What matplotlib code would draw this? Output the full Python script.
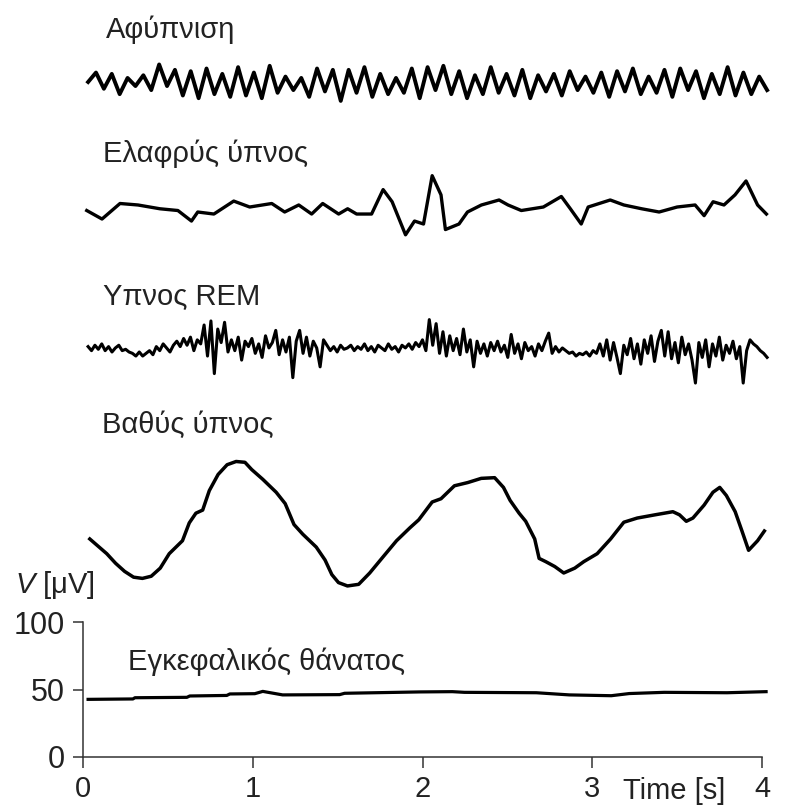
"""
EEG traces for different sleep stages (Greek labels), stacked on one
shared µV / time axis. Saves out.png.
"""

import numpy as np
import matplotlib
matplotlib.use("Agg")
import matplotlib.pyplot as plt

plt.rcParams["font.family"] = ["Liberation Sans", "DejaVu Sans"]
plt.rcParams["mathtext.fontset"] = "custom"
plt.rcParams["mathtext.it"] = "Liberation Sans:italic"
plt.rcParams["mathtext.rm"] = "Liberation Sans"

# --- data (time in s, voltage in µV relative to each trace baseline) ------
stage_labels = ["Αφύπνιση", "Ελαφρύς ύπνος", "Υπνος REM", "Βαθύς ύπνος",
                "Εγκεφαλικός θάνατος"]

# awake: alpha rhythm, samples evenly spaced from 0.03 s to 4.03 s
awake_uv = [
    0, 7, -5, 6, -9, 3, -3, 5, -6, 13, -3, 9, -10, 8, -12, 10, -9, 6, -11, 11,
    -10, 7, -12, 12, -8, 4, -6, 3, -11, 10, -7, 9, -14, 9, -8, 11, -11, 6, -9, 3,
    -8, 10, -12, 11, -6, 12, -9, 8, -12, 5, -9, 11, -8, 6, -10, 9, -12, 5, -7, 6,
    -10, 8, -6, 4, -8, 7, -11, 8, -7, 10, -9, 4, -8, 9, -11, 10, -6, 8, -12, 6,
    -9, 11, -10, 7, -9, 4, -6]

light_t = [0.022, 0.112, 0.218, 0.324, 0.453, 0.559, 0.639, 0.676, 0.771, 0.888,
           0.982, 1.112, 1.188, 1.271, 1.347, 1.412, 1.506, 1.559, 1.612, 1.700,
           1.768, 1.821, 1.900, 1.953, 2.006, 2.057, 2.109, 2.135, 2.215, 2.265,
           2.347, 2.451, 2.504, 2.582, 2.712, 2.818, 2.871, 2.935, 2.976, 3.106,
           3.186, 3.291, 3.394, 3.500, 3.606, 3.659, 3.712, 3.776, 3.841, 3.906,
           3.974, 4.026]
light_uv = [-2.6, -8.9, 2.6, 1.5, -1.3, -2.6, -10.4, -3.7, -5.2, 4.4,
            0.0, 2.6, -3.7, 1.5, -5.2, 2.6, -5.2, -1.3, -5.2, -5.2,
            12.9, 3.9, -20.6, -10.4, -12.6, 23.2, 9.0, -16.7, -12.6, -3.7,
            1.5, 5.2, 1.5, -2.6, 0.0, 7.8, -1.3, -12.6, 0.0, 5.2,
            1.5, -1.3, -3.7, 0.0, 1.5, -6.4, 3.9, 1.5, 9.0, 19.3,
            1.5, -5.2]

# REM: samples evenly spaced from 0.03 s to 4.03 s
rem_uv = [
    1, -2, 2, -1, 3, -2, 1, -3, 0, 2, -2, -1, -3, -4, -6, -3, -6, -4, -2, -5,
    1, -2, 3, 0, -3, 2, 5, 1, 7, 2, 8, -2, 6, 3, 17, -6, 20, -19, 14, 4,
    19, -3, 6, -2, 8, -9, 5, 1, 7, -4, 3, -7, 9, 0, 4, 13, -5, 6, -3, 8,
    -22, 5, 13, -4, 8, -6, 5, 0, -14, 6, 2, -2, 1, -3, 2, -1, 0, 2, -2, 1,
    -1, 3, -2, 1, -3, 2, 0, -2, 3, -1, 1, -3, 2, 0, 3, -1, 4, 1, 6, -2,
    21, 2, 18, -4, 12, -6, 9, -2, 7, -5, 14, -3, 6, -14, 5, -4, 3, -6, 4, -2,
    5, -3, 2, -7, 10, -4, 3, -8, 4, -2, 1, -6, 3, -2, 5, 11, -4, 1, -3, 0,
    -2, -4, -3, -6, -4, -5, -3, -6, -2, -4, 3, -6, 6, -9, 4, -7, -19, 2, -5, 7,
    -8, 3, -12, 6, -4, 9, -10, 5, 13, -6, 12, -8, 4, -11, 8, -5, 3, -9, -26, 4,
    -7, 6, -14, 3, -6, 8, -9, 2, -4, 5, -8, 1, -26, -2, 6, 3, 1, -2, -4, -7]

deep_t = [0.040, 0.140, 0.192, 0.245, 0.298, 0.350, 0.402, 0.455, 0.508, 0.586,
          0.626, 0.665, 0.705, 0.744, 0.796, 0.849, 0.902, 0.954, 0.994, 1.059,
          1.138, 1.191, 1.243, 1.295, 1.374, 1.426, 1.466, 1.505, 1.558, 1.624,
          1.689, 1.768, 1.847, 1.926, 1.978, 2.057, 2.109, 2.188, 2.267, 2.346,
          2.425, 2.477, 2.516, 2.569, 2.608, 2.661, 2.687, 2.726, 2.779, 2.832,
          2.897, 2.950, 3.029, 3.108, 3.186, 3.265, 3.370, 3.475, 3.514, 3.554,
          3.593, 3.659, 3.711, 3.751, 3.790, 3.842, 3.882, 3.921, 3.974, 4.014]
deep_uv = [-14.1, -25.0, -32.1, -38.1, -42.4, -43.3, -41.7, -35.7, -25.0, -15.4,
           -2.2, 5.0, 7.3, 21.7, 33.7, 40.9, 43.3, 42.7, 37.3, 30.1,
           20.5, 12.1, -3.4, -10.6, -20.1, -29.7, -40.5, -46.4, -48.9, -47.7,
           -39.3, -27.3, -15.4, -5.8, 0.1, 13.3, 15.7, 25.3, 27.7, 30.8,
           31.3, 24.1, 14.5, 5.0, -1.0, -14.1, -28.5, -30.9, -34.5, -39.3,
           -35.7, -30.9, -25.0, -14.1, -1.7, 1.4, 3.8, 6.1, 3.8, -1.0,
           1.4, 11.0, 20.5, 24.1, 18.1, 6.1, -8.2, -22.5, -15.4, -8.2]

dead_t = [0.030, 0.294, 0.306, 0.612, 0.629, 0.847, 0.865, 1.012, 1.059, 1.176,
          1.512, 1.541, 1.982, 2.176, 2.247, 2.671, 2.865, 3.112, 3.218, 3.424,
          3.794, 4.024]
dead_uv = [42.7, 43.0, 43.9, 44.2, 45.2, 45.6, 46.7, 46.9, 48.6, 46.0,
           46.2, 47.2, 48.2, 48.4, 47.9, 47.6, 46.0, 45.4, 47.0, 47.9,
           47.6, 48.4]

x_ticks = [0, 1, 2, 3, 4]
y_ticks = [0, 50, 100]

# vertical placement of the stacked traces (µV on the shared axis)
offsets = [500.0, 407.4, 303.0, 175.6, 0.0]
label_pos = [(0.135, 532.6), (0.118, 441.0), (0.118, 335.0), (0.110, 239.8),
             (0.265, 64.4)]


def main():
    fig = plt.figure(figsize=(7.92, 8.07), dpi=100)
    ax = fig.add_axes([83 / 792, 50 / 807, 679 / 792, 757 / 807])
    ax.set_xlim(0, 4)
    ax.set_ylim(0, 757 / 1.35)

    t_awake = np.linspace(0.03, 4.03, len(awake_uv))
    t_rem = np.linspace(0.03, 4.03, len(rem_uv))

    traces = [
        (t_awake, awake_uv, 2.8),
        (light_t, light_uv, 2.4),
        (t_rem, rem_uv, 2.2),
        (deep_t, deep_uv, 2.5),
        (dead_t, dead_uv, 2.3),
    ]
    for (t, v, lw), off in zip(traces, offsets):
        ax.plot(t, np.asarray(v) + off, color="black", lw=lw,
                clip_on=False, solid_joinstyle="round")

    for lab, (x, y) in zip(stage_labels, label_pos):
        ax.text(x, y, lab, fontsize=21, color="#222222", va="baseline")

    # axes styling: only left / bottom spines, limited to the scale bar
    for s in ["top", "right"]:
        ax.spines[s].set_visible(False)
    ax.spines["left"].set_bounds(0, 100)
    ax.spines["bottom"].set_bounds(0, 4)
    for s in ["left", "bottom"]:
        ax.spines[s].set_color("#333333")
        ax.spines[s].set_linewidth(1.1)
    ax.set_xticks(x_ticks)
    ax.set_yticks(y_ticks)
    ax.set_xticklabels([str(v) for v in x_ticks])
    ax.set_yticklabels([str(v) for v in y_ticks])
    ax.tick_params(axis="x", length=8, width=1.1, pad=5, labelsize=21,
                   color="#333333", labelcolor="#222222")
    ax.tick_params(axis="y", length=7, width=1.1, pad=6, labelsize=22,
                   color="#333333", labelcolor="#222222")

    ax.text(-0.402, 121.5, "$V$ [μV]", fontsize=21, color="#222222",
            va="baseline", clip_on=False)
    ax.text(3.18, -25.2, "Time [s]", fontsize=21, color="#222222",
            va="center", clip_on=False)

    fig.savefig("out.png", dpi=100)
    plt.close(fig)


if __name__ == "__main__":
    main()
